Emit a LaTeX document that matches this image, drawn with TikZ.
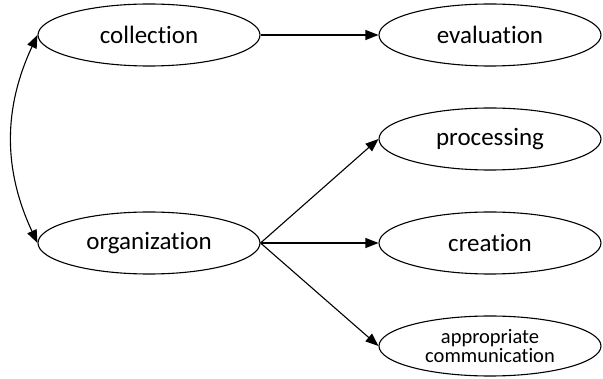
\documentclass[tikz,border=0pt]{standalone}
\usepackage{fontspec}
\setmainfont{Carlito}[Ligatures={NoCommon}]
\usetikzlibrary{shapes.geometric,arrows.meta}
\begin{document}
\begin{tikzpicture}[x=1pt,y=1pt,
  oval/.style={ellipse,draw,line width=1.1pt,minimum width=222pt,minimum height=62pt,inner sep=0pt,font=\fontsize{25}{28}\selectfont},
  smalloval/.style={oval,font=\fontsize{20.5}{22}\selectfont,align=center},
  conn/.style={line width=1.1pt,-{Triangle[length=13pt,width=10pt]}},
  bconn/.style={line width=1.1pt,{Triangle[length=13pt,width=10pt]}-{Triangle[length=13pt,width=10pt]}}]
\useasboundingbox (0,0) rectangle (603,-379);
\node[oval] (col) at (149,-35) {collection};
\node[oval] (eva) at (490,-35) {evaluation};
\node[oval] (pro) at (490,-139) {processing};
\node[oval] (org) at (149,-243) {organization};
\node[oval] (cre) at (490,-243) {creation};
\node[smalloval,minimum height=60pt] (app) at (490,-346) {appropriate\\[-3pt]communication};
\draw[conn] (col.east) -- (eva.west);
\draw[conn] (org.east) -- (pro.west);
\draw[conn] (org.east) -- (cre.west);
\draw[conn] (org.east) -- (app.west);
\draw[bconn] (col.west) to[bend right=25] (org.west);
\end{tikzpicture}
\end{document}
